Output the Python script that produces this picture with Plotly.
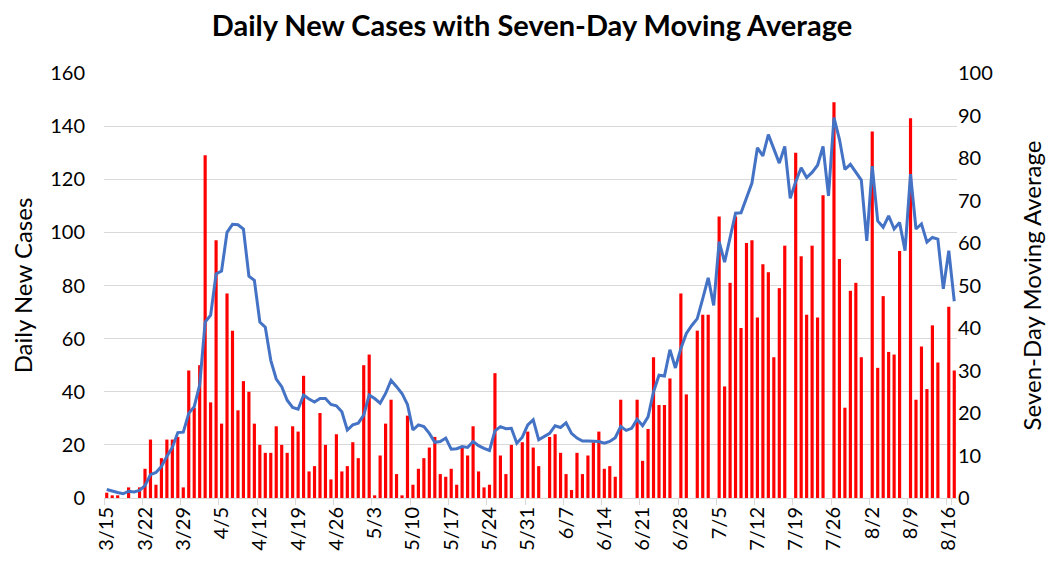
import pandas as pd
import plotly.graph_objects as go

# dates 3/15 .. 8/17 (one bar per day)
dates = pd.date_range("2020-03-15", "2020-08-17", freq="D")
day_labels = [f"{d.month}/{d.day}" for d in dates]

tick_labels = ["3/15", "3/22", "3/29", "4/5", "4/12", "4/19", "4/26", "5/3",
               "5/10", "5/17", "5/24", "5/31", "6/7", "6/14", "6/21", "6/28",
               "7/5", "7/12", "7/19", "7/26", "8/2", "8/9", "8/16"]

new_cases = [2, 1, 1, 0, 4, 0, 4, 11, 22, 5, 15, 22, 22, 23, 4, 48, 34, 50, 129, 36,
             97, 28, 77, 63, 33, 44, 40, 28, 20, 17, 17, 27, 20, 17, 27, 25, 46, 10, 12, 32,
             20, 7, 24, 10, 12, 21, 15, 50, 54, 1, 16, 28, 37, 9, 1, 31, 5, 11, 15, 19,
             23, 9, 8, 11, 5, 19, 16, 27, 10, 4, 5, 47, 16, 9, 20, 0, 21, 25, 19, 12,
             0, 23, 24, 17, 9, 3, 17, 9, 16, 21, 25, 11, 12, 8, 37, 0, 0, 37, 14, 26,
             53, 35, 35, 45, 0, 77, 39, 0, 63, 69, 69, 0, 106, 42, 81, 106, 64, 96, 97, 68,
             88, 85, 53, 79, 95, 0, 130, 91, 69, 95, 68, 114, 0, 149, 90, 34, 78, 81, 53, 0,
             138, 49, 76, 55, 54, 93, 0, 143, 37, 57, 41, 65, 51, 0, 72, 48]

moving_avg = [2.0, 1.6, 1.3, 1.0, 1.6, 1.4, 1.8, 2.9, 5.5, 6.0, 7.4, 9.8, 11.9, 15.4, 15.5,
              19.9, 21.5, 26.6, 41.4, 43.0, 52.7, 53.4, 62.5, 64.4, 64.3, 63.3, 52.2, 51.2,
              41.4, 40.2, 32.4, 28.0, 26.2, 23.0, 21.3, 20.9, 24.2, 23.3, 22.6, 23.4, 23.4,
              22.0, 21.7, 20.3, 16.0, 17.2, 17.6, 19.5, 24.2, 23.4, 22.3, 24.6, 27.7, 26.2,
              24.6, 22.0, 16.0, 17.2, 16.8, 15.2, 13.1, 13.3, 14.1, 11.5, 11.6, 12.1, 11.9,
              13.3, 12.3, 11.7, 11.2, 15.8, 16.8, 16.3, 16.4, 12.9, 14.3, 17.2, 18.4, 13.7,
              14.5, 15.2, 17.0, 16.6, 17.7, 15.2, 14.1, 13.4, 13.4, 13.3, 13.3, 12.9, 13.3,
              14.2, 16.8, 15.9, 16.4, 18.5, 17.0, 19.1, 25.0, 28.9, 28.7, 34.9, 30.6, 35.2,
              38.7, 40.6, 42.2, 46.9, 51.8, 45.3, 60.3, 55.5, 61.3, 67.0, 67.1, 70.5, 74.1,
              82.4, 80.5, 85.5, 82.2, 78.8, 82.7, 70.5, 74.4, 77.7, 75.4, 76.6, 78.3, 82.7,
              71.1, 89.5, 84.4, 77.3, 78.5, 76.7, 74.8, 60.5, 78.1, 65.2, 63.7, 66.4, 63.3,
              64.8, 58.2, 76.2, 63.3, 64.5, 60.2, 61.3, 60.9, 49.2, 58.2, 46.3]

font = "Lato, Carlito, Calibri, sans-serif"

fig = go.Figure()
fig.add_trace(go.Bar(x=day_labels, y=new_cases, marker_color="#FF0000",
                     marker_line_width=0, name="Daily New Cases"))
fig.add_trace(go.Scatter(x=day_labels, y=moving_avg, mode="lines", yaxis="y2",
                         line=dict(color="#4472C4", width=3), name="Seven-Day Moving Average"))

# page body adds an 8px offset, so the figure is a bit smaller than the window
fig.update_layout(
    width=1048, height=555,
    margin=dict(l=96, r=99, t=65, b=63),
    paper_bgcolor="white", plot_bgcolor="white",
    showlegend=False, bargap=0.42,
    font=dict(family=font, color="#000000"),
    title=dict(text="<b>Daily New Cases with Seven-Day Moving Average</b>",
               x=0.5, xanchor="center", y=0.968, yanchor="middle",
               font=dict(size=29, family=font)),
    xaxis=dict(type="category", tickmode="array", tickvals=tick_labels, ticktext=tick_labels,
               tickangle=-90, tickfont=dict(size=20), showgrid=False,
               showline=True, linecolor="#D9D9D9", linewidth=1,
               ticks="outside", ticklen=6, tickcolor="#D9D9D9", tickson="boundaries",
               range=[-0.5, len(day_labels) - 0.5]),
    yaxis=dict(range=[0, 160], dtick=20, tickfont=dict(size=20), ticklabelstandoff=18,
               gridcolor="#D9D9D9", gridwidth=1, zeroline=False,
               title=dict(text="Daily New Cases", font=dict(size=24), standoff=12)),
    yaxis2=dict(range=[0, 100], dtick=10, overlaying="y", side="right",
                tickfont=dict(size=20), showgrid=False, zeroline=False, automargin=False,
                title=dict(text="Seven-Day Moving Average", font=dict(size=24), standoff=32)),
)

fig.write_html("out.html")
